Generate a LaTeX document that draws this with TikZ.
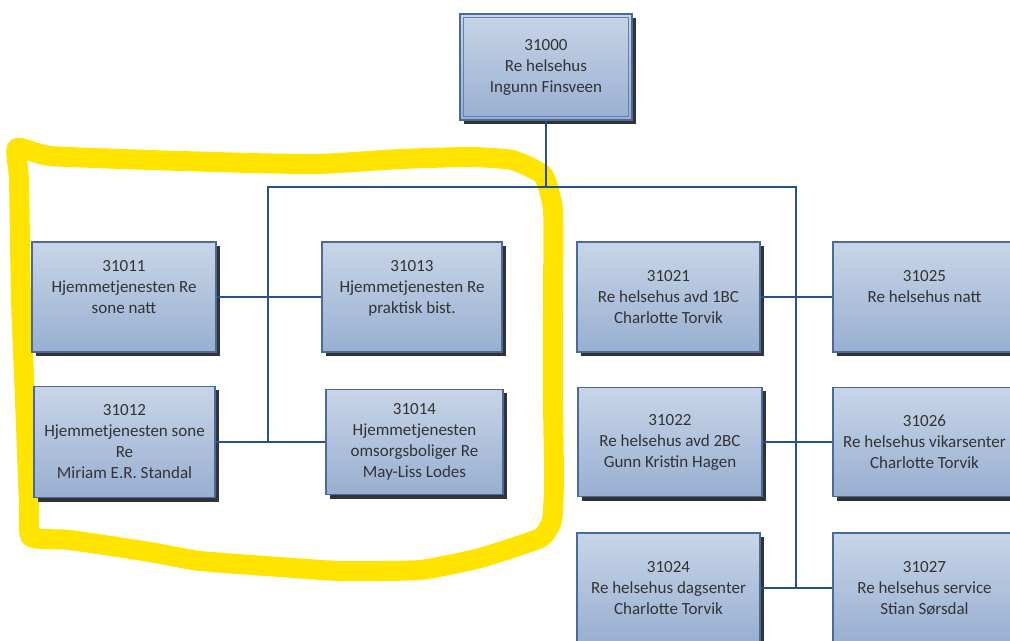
\documentclass[tikz,border=0pt]{standalone}
\usepackage{fontspec}
\setmainfont{Carlito}
\usetikzlibrary{shadows,calc}
\definecolor{boxtop}{HTML}{C8D5E7}
\definecolor{boxbot}{HTML}{98AFD1}
\definecolor{boxline}{HTML}{4A6A9C}
\definecolor{connblue}{HTML}{27508C}
\definecolor{hl}{HTML}{FFE400}
\definecolor{txt}{HTML}{333333}
\begin{document}
\begin{tikzpicture}[x=0.75pt,y=-0.75pt,
  orgbox/.style={draw=boxline, line width=1.1pt, top color=boxtop, bottom color=boxbot,
    align=center, text=txt, font=\fontsize{12.75}{15.75}\selectfont, inner sep=0pt,
    drop shadow={shadow xshift=3pt, shadow yshift=-3pt, fill=black!80, opacity=1}},
  bw/.style={minimum width=#1*0.75pt},
  bh/.style={minimum height=#1*0.75pt},
  conn/.style={draw=connblue, line width=1.9pt},
  highlight/.style={draw=hl, line width=15pt, line join=round, line cap=round}]
\useasboundingbox (0,0) rectangle (1010,641);
\clip (0,0) rectangle (1010,641);
\fill[white] (0,0) rectangle (1010,641);

% yellow hand-drawn highlight
\draw[highlight] plot[smooth cycle, tension=0.3] coordinates {
  (17,148) (50,156) (150,160) (250,163) (320,164) (400,159) (470,157) (512,160)
  (543,175) (553,210) (553,300) (553,400) (554,480) (552,520) (540,538)
  (480,558) (420,570) (340,571) (280,567) (200,561) (150,552) (70,540) (31,537)
  (29,505) (25,400) (21,300) (19,180)};

% nodes
\node[orgbox, bw=172, bh=106] (n31000) at (546,67) {31000\\Re helsehus\\Ingunn Finsveen};
\draw[boxline!85, line width=0.8pt] ($(n31000.north west)+(4,4)$) rectangle ($(n31000.south east)+(-4,-4)$);

\node[orgbox, bw=184, bh=110] (n31011) at (124,297) {31011\\Hjemmetjenesten Re\\sone natt\\ \mbox{}};
\node[orgbox, bw=180, bh=110] (n31013) at (412,297) {31013\\Hjemmetjenesten Re\\praktisk bist.\\ \mbox{}};
\node[orgbox, bw=181, bh=111] (n31012) at (124.5,442) {31012\\Hjemmetjenesten sone\\Re\\Miriam E.R. Standal};
\node[orgbox, bw=177, bh=105] (n31014) at (414.5,442) {31014\\Hjemmetjenesten\\omsorgsboliger Re\\May-Liss Lodes};

\node[orgbox, bw=183, bh=110] (n31021) at (668.5,297) {31021\\Re helsehus avd 1BC\\Charlotte Torvik};
\node[orgbox, bw=183, bh=110] (n31025) at (924.5,297) {31025\\Re helsehus natt\\ \mbox{}};
\node[orgbox, bw=184, bh=109] (n31022) at (670,442) {31022\\Re helsehus avd 2BC\\Gunn Kristin Hagen};
\node[orgbox, bw=183, bh=109] (n31026) at (924.5,442) {31026\\Re helsehus vikarsenter\\Charlotte Torvik};
\node[orgbox, bw=183, bh=110] (n31024) at (668.5,588) {31024\\Re helsehus dagsenter\\Charlotte Torvik};
\node[orgbox, bw=183, bh=110] (n31027) at (924.5,588) {31027\\Re helsehus service\\Stian Sørsdal};

% connectors
\coordinate (busL) at (268,187);
\coordinate (busR) at (796,187);
\draw[conn] (n31000.south) -- (n31000.south |- busL);
\draw[conn] (busL |- n31012.east) -- (busL) -- (busR) -- (busR |- n31024.east);
\draw[conn] (n31011.east) -- (n31013.west);
\draw[conn] (n31012.east) -- (n31014.west);
\draw[conn] (n31021.east) -- (n31025.west);
\draw[conn] (n31022.east) -- (n31026.west);
\draw[conn] (n31024.east) -- (n31027.west);
\end{tikzpicture}
\end{document}
